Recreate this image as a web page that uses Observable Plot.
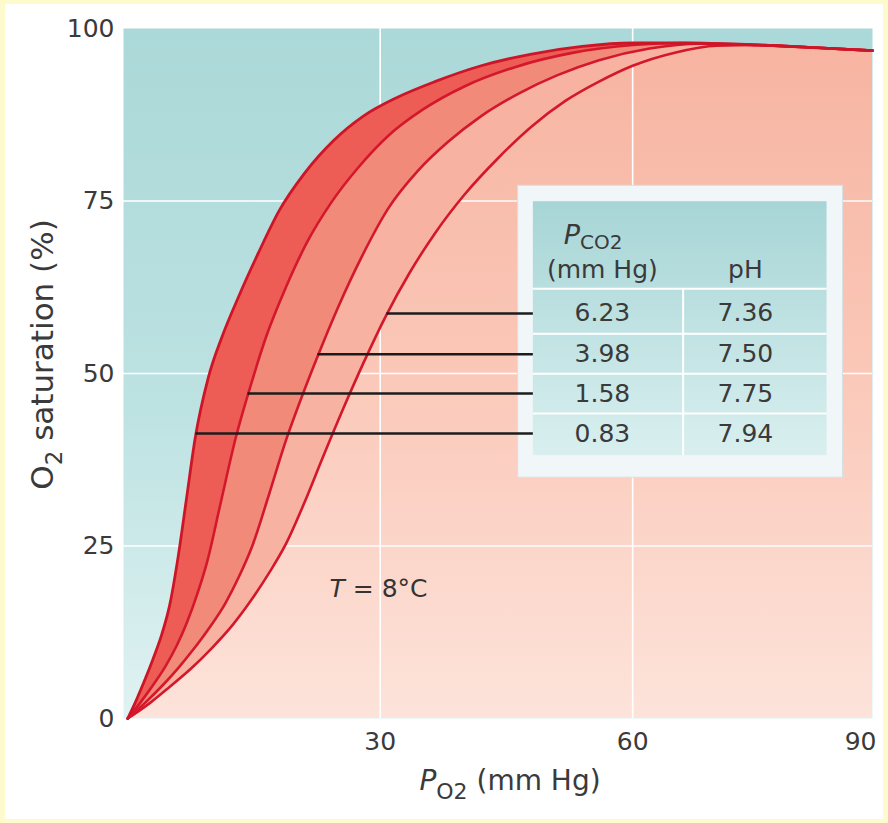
<!DOCTYPE html>
<html><head><meta charset="utf-8">
<script src="https://cdn.jsdelivr.net/npm/d3@7"></script>
<script src="https://cdn.jsdelivr.net/npm/@observablehq/plot@0.6"></script>
<style>
html,body{margin:0;padding:0;background:#fff;}
#wrap{position:relative;width:888px;height:823px;background:#fdfbcc;overflow:hidden;}
#inner{position:absolute;left:5px;top:4px;width:878px;height:815px;background:#fff;}
#wrap svg{position:absolute;left:0;top:0;}
</style></head><body><div id="wrap"><div id="inner"></div></div>
<script>
// ---- data (PO2 in mm Hg, O2 saturation in %) ----
const c1P = [0, 1, 2, 3, 4, 5, 6, 7, 8, 9.6, 11.2, 13.2, 15.5, 18, 21, 24.5, 28, 32, 36.5, 42, 48, 54, 60, 66];
const c1S = [0, 2.6, 5.5, 8.6, 12, 16.5, 23.5, 32, 40.5, 49.5, 55.3, 61.2, 67.4, 73.6, 79, 83.8, 87.3, 90, 92.3, 94.6, 96.3, 97.4, 97.9, 97.9];
const c2P = [0, 1.5, 3.1, 4.5, 5.8, 7, 8.2, 9.5, 11, 12.8, 14.5, 16.5, 18.8, 21.3, 24.2, 27.5, 31, 35, 40, 46, 53, 60, 66];
const c2S = [0, 2.3, 5, 7.6, 10.5, 13.8, 17.8, 23, 31, 40.5, 47.8, 55.5, 62.5, 69, 74.8, 80, 84.5, 88.2, 91.6, 94.4, 96.5, 97.6, 97.9];
const c3P = [0, 2, 4.3, 6, 7.6, 9.5, 11.6, 13.2, 14.8, 16.8, 18.8, 20.8, 22.8, 25, 27.8, 31, 34.5, 38, 42, 46.5, 51, 56, 62, 68];
const c3S = [0, 2.2, 5, 7.3, 9.7, 12.8, 16.7, 20.5, 25, 32.5, 40.3, 47, 53.2, 59.6, 66.9, 74, 79.4, 83.5, 87.3, 90.6, 93.2, 95.4, 97.1, 97.8];
const c4P = [0, 2.7, 5, 7.5, 10, 12.5, 14.7, 16.8, 18.8, 21, 23.2, 25.5, 28, 30.7, 33.5, 36.5, 40, 44, 48, 52, 56, 60, 65, 70];
const c4S = [0, 2.3, 4.6, 7.2, 10.2, 13.6, 17.2, 21.1, 25.3, 31.3, 37.9, 44.6, 51.5, 58.4, 64.6, 70.3, 75.9, 81.2, 85.8, 89.5, 92.3, 94.6, 96.5, 97.5];
const tailP = [75, 82, 88.5];
const tailS = [97.6, 97.2, 96.8];

const pco2 = ["6.23", "3.98", "1.58", "0.83"];
const pH = ["7.36", "7.50", "7.75", "7.94"];
const rowSat = [58.7, 52.8, 47.1, 41.3];      // saturation level of each pointer line / row
const lineStartP = [30.8, 22.6, 14.3, 8.1];   // where each pointer line leaves its curve

const xTicks = [30, 60];
const yTicks = [0, 25, 50, 75, 100];

// ---- build tables ----
const mk = (P, S) => P.map((p, i) => ({p, s: S[i]})).concat(tailP.map((p, i) => ({p, s: tailS[i]})));
const c1 = mk(c1P, c1S), c2 = mk(c2P, c2S), c3 = mk(c3P, c3S), c4 = mk(c4P, c4S);
const rows = pco2.map((v, i) => ({pco2: v, pH: pH[i], s: rowSat[i], p0: lineStartP[i]}));
const seps = rowSat.slice(1).map((s, i) => (s + rowSat[i]) / 2);

const T = {x1: 46.4, x2: 85, y1: 34.9, y2: 77.2, ix1: 48.2, ix2: 83.1, iy1: 38.1, iy2: 74.9, col: 66, hdr: 62.3, colA: 56.4, colB: 73.4};
const RED = "#d4182b";
const FS = 25;
// placeholder colours, swapped for gradients after rendering
const PH_TEAL = "#010203", PH_PINK = "#010204", PH_TBL = "#010205";

const chart = Plot.plot({
  width: 888, height: 823,
  marginLeft: 123, marginRight: 16, marginTop: 28, marginBottom: 105,
  x: {domain: [-0.5, 88.5]},
  y: {domain: [0, 100]},
  style: {background: "transparent", fontFamily: "DejaVu Sans", fontSize: "25px", color: "#3a3a3a"},
  marks: [
    Plot.frame({fill: PH_TEAL, stroke: "none"}),
    Plot.ruleX(xTicks, {stroke: "white", strokeWidth: 1.6}),
    Plot.ruleY(yTicks.filter(d => d > 0 && d < 100), {stroke: "white", strokeWidth: 1.6}),
    Plot.areaY(c1, {x: "p", y1: 0, y2: "s", fill: "#ee5c56", curve: "monotone-x"}),
    Plot.areaY(c2, {x: "p", y1: 0, y2: "s", fill: "#f28a7a", curve: "monotone-x"}),
    Plot.areaY(c3, {x: "p", y1: 0, y2: "s", fill: "#f7b2a2", curve: "monotone-x"}),
    Plot.areaY(c4, {x: "p", y1: 0, y2: "s", fill: PH_PINK, curve: "monotone-x"}),
    Plot.ruleX(xTicks, {stroke: "#fefefe", strokeWidth: 1.6}),
    Plot.ruleY(yTicks.filter(d => d > 0 && d < 100), {stroke: "#fefefe", strokeWidth: 1.6}),
    Plot.line(c4, {x: "p", y: "s", stroke: RED, strokeWidth: 2.6, curve: "monotone-x"}),
    Plot.line(c3, {x: "p", y: "s", stroke: RED, strokeWidth: 2.6, curve: "monotone-x"}),
    Plot.line(c2, {x: "p", y: "s", stroke: RED, strokeWidth: 2.6, curve: "monotone-x"}),
    Plot.line(c1, {x: "p", y: "s", stroke: "#cc1628", strokeWidth: 2.8, curve: "monotone-x"}),
    // table
    Plot.rect([0], {x1: T.x1, x2: T.x2, y1: T.y1, y2: T.y2, fill: "#f1f6f8", stroke: "#d5e1e6", strokeWidth: 1}),
    Plot.rect([0], {x1: T.ix1, x2: T.ix2, y1: T.iy1, y2: T.iy2, fill: PH_TBL}),
    Plot.ruleY([T.hdr, ...seps], {x1: T.ix1, x2: T.ix2, stroke: "white", strokeWidth: 2}),
    Plot.ruleX([T.col], {y1: T.iy1, y2: T.hdr, stroke: "white", strokeWidth: 2}),
    Plot.text(["PCO2"], {x: 51.8, y: 70.0, text: d => d, textAnchor: "start", fontSize: FS, fill: "#3a3a3a"}),
    Plot.text(["(mm Hg)"], {x: T.colA, y: 65.0, text: d => d, fontSize: FS, fill: "#3a3a3a"}),
    Plot.text(["pH"], {x: T.colB, y: 65.0, text: d => d, fontSize: FS, fill: "#3a3a3a"}),
    Plot.text(rows, {x: T.colA, y: "s", text: "pco2", fontSize: FS, fill: "#3a3a3a"}),
    Plot.text(rows, {x: T.colB, y: "s", text: "pH", fontSize: FS, fill: "#3a3a3a"}),
    Plot.ruleY(rows, {y: "s", x1: "p0", x2: T.ix1, stroke: "#1c1c1c", strokeWidth: 2.6}),
    // annotation
    Plot.text(["T = 8°C"], {x: 29.8, y: 18.8, text: d => d, fontSize: FS, fill: "#333"}),
    // axes
    Plot.axisY({ticks: yTicks, tickSize: 0, tickPadding: 9, fontSize: FS, label: null}),
    Plot.axisX({ticks: xTicks, tickSize: 0, tickPadding: 14, fontSize: FS, label: null}),
    Plot.axisX({ticks: [88.5], tickFormat: () => "90", textAnchor: "end", dx: 4, tickSize: 0, tickPadding: 14, fontSize: FS, label: null}),
    Plot.text(["PO2 (mm Hg)"], {frameAnchor: "bottom", text: d => d, textAnchor: "middle", lineAnchor: "middle", dx: 12, dy: 63, fontSize: 28, fill: "#3a3a3a"}),
    Plot.text(["O2 saturation (%)"], {frameAnchor: "left", text: d => d, rotate: -90, textAnchor: "middle", lineAnchor: "middle", dx: -80, dy: -19, fontSize: 31, fill: "#3a3a3a"})
  ]
});

const ns = "http://www.w3.org/2000/svg";
const defs = document.createElementNS(ns, "defs");
defs.innerHTML = `
<linearGradient id="gTeal" x1="0" y1="0" x2="0" y2="1">
  <stop offset="0" stop-color="#abd8d8"/><stop offset="0.55" stop-color="#bde2e2"/><stop offset="1" stop-color="#e0f2f2"/>
</linearGradient>
<linearGradient id="gPink" x1="0" y1="0" x2="0" y2="1">
  <stop offset="0" stop-color="#f7b4a1"/><stop offset="0.45" stop-color="#fac6b6"/><stop offset="1" stop-color="#fde3da"/>
</linearGradient>
<linearGradient id="gTbl" x1="0" y1="0" x2="0" y2="1">
  <stop offset="0" stop-color="#a7d5d6"/><stop offset="1" stop-color="#d9efef"/>
</linearGradient>`;
chart.insertBefore(defs, chart.firstChild);

// swap placeholder fills for gradients
const swap = {[PH_TEAL]: "url(#gTeal)", [PH_PINK]: "url(#gPink)", [PH_TBL]: "url(#gTbl)"};
for (const el of chart.querySelectorAll("[fill]")) {
  const f = (el.getAttribute("fill") || "").toLowerCase();
  if (swap[f]) el.setAttribute("fill", swap[f]);
}

// clip the second set of grid lines to the region under the last curve
let pinkEl = null;
for (const el of chart.querySelectorAll('[fill="url(#gPink)"]')) { pinkEl = el; }
const underPath = pinkEl ? (pinkEl.tagName === "path" ? pinkEl : pinkEl.querySelector("path")) : null;
if (underPath) {
  const cp = document.createElementNS(ns, "clipPath");
  cp.setAttribute("id", "clip4");
  const p = document.createElementNS(ns, "path");
  p.setAttribute("d", underPath.getAttribute("d"));
  cp.appendChild(p);
  defs.appendChild(cp);
  for (const el of chart.querySelectorAll('[stroke="#fefefe"]')) el.setAttribute("clip-path", "url(#clip4)");
}

// rich text: italics and subscripts (found by their content)
function rich(content, parts) {
  for (const t of chart.querySelectorAll("text")) {
    if (t.textContent !== content) continue;
    t.textContent = "";
    for (const [str, attrs] of parts) {
      const ts = document.createElementNS(ns, "tspan");
      ts.textContent = str;
      for (const k in attrs) ts.setAttribute(k, attrs[k]);
      t.appendChild(ts);
    }
  }
}
rich("PO2 (mm Hg)", [["P", {"font-style": "italic"}], ["O2", {"font-size": 22, dy: 9}], [" (mm Hg)", {dy: -9}]]);
rich("O2 saturation (%)", [["O", {}], ["2", {"font-size": 23, dy: 9}], [" saturation (%)", {dy: -9}]]);
rich("PCO2", [["P", {"font-style": "italic", "font-size": 27}], ["CO2", {"font-size": 20, dy: 5}]]);
rich("T = 8°C", [["T", {"font-style": "italic"}], [" = 8°C", {}]]);

document.getElementById("wrap").appendChild(chart);
</script></body></html>
